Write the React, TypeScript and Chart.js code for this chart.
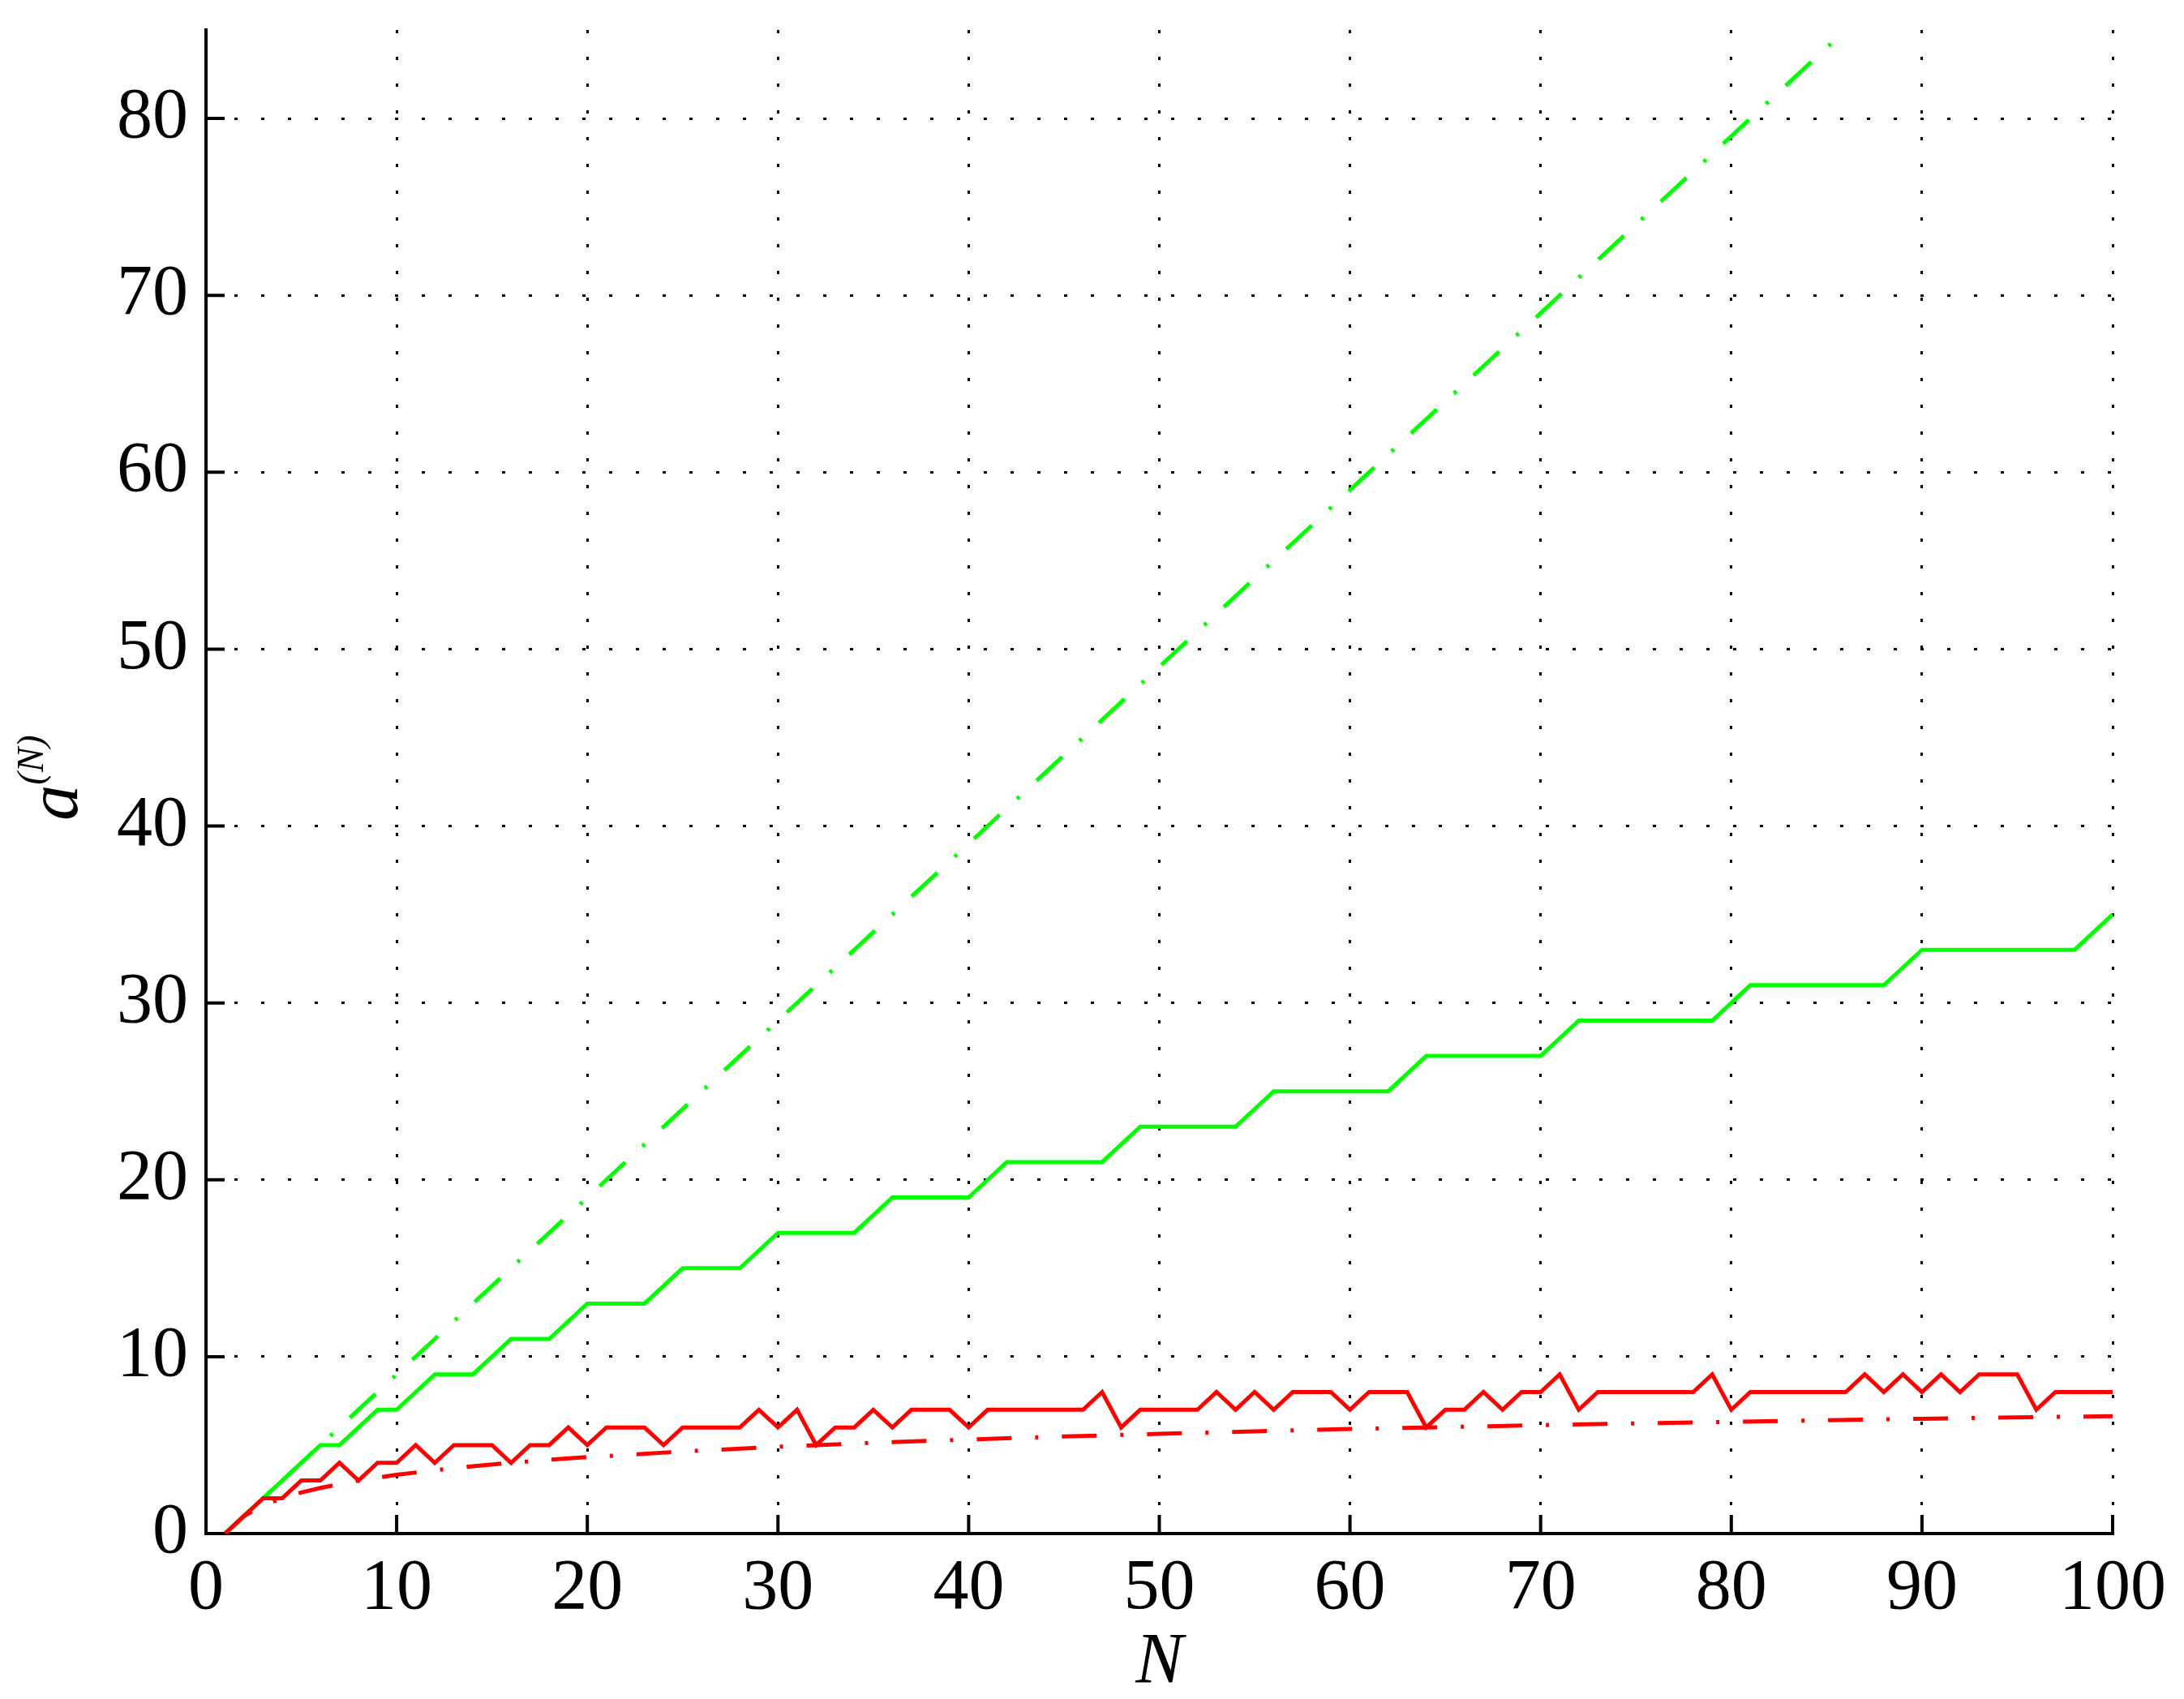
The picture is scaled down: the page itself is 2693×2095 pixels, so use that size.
import { useEffect, useRef } from 'react';
import Chart from 'chart.js/auto';

// index along the horizontal axis
const nValues = Array.from({ length: 100 }, (_, i) => i + 1);

// green solid staircase, one value per N
const greenSteps = [
  0, 1, 2, 3, 4, 5, 5, 6, 7, 7,
  8, 9, 9, 9, 10, 11, 11, 11, 12, 13,
  13, 13, 13, 14, 15, 15, 15, 15, 16, 17,
  17, 17, 17, 17, 18, 19, 19, 19, 19, 19,
  20, 21, 21, 21, 21, 21, 21, 22, 23, 23,
  23, 23, 23, 23, 24, 25, 25, 25, 25, 25,
  25, 25, 26, 27, 27, 27, 27, 27, 27, 27,
  28, 29, 29, 29, 29, 29, 29, 29, 29, 30,
  31, 31, 31, 31, 31, 31, 31, 31, 32, 33,
  33, 33, 33, 33, 33, 33, 33, 33, 34, 35
];

// red solid jagged series, one value per N
const redJagged = [
  0, 1, 2, 2, 3, 3, 4, 3, 4, 4,
  5, 4, 5, 5, 5, 4, 5, 5, 6, 5,
  6, 6, 6, 5, 6, 6, 6, 6, 7, 6,
  7, 5, 6, 6, 7, 6, 7, 7, 7, 6,
  7, 7, 7, 7, 7, 7, 8, 6, 7, 7,
  7, 7, 8, 7, 8, 7, 8, 8, 8, 7,
  8, 8, 8, 6, 7, 7, 8, 7, 8, 8,
  9, 7, 8, 8, 8, 8, 8, 8, 9, 7,
  8, 8, 8, 8, 8, 8, 9, 8, 9, 8,
  9, 8, 9, 9, 9, 7, 8, 8, 8, 8
];

// green dash-dot straight guide (runs off the top of the axes)
const greenGuideN = [1, 100];
const greenGuideA = [0, 99];

// red dash-dot slowly rising curve
const redCurveN = [1, 2, 3, 4, 5, 6, 8, 10, 12, 14, 16, 18, 20, 25, 30, 35, 40, 45, 50, 55, 60, 65, 70, 75, 80, 85, 90, 95, 100];
const redCurveA = [0, 1, 1.58, 2, 2.32, 2.58, 3, 3.32, 3.58, 3.81, 4, 4.17, 4.32, 4.64, 4.91, 5.13, 5.32, 5.49, 5.64, 5.78, 5.91, 6.02, 6.13, 6.23, 6.32, 6.41, 6.49, 6.57, 6.64];

const xMin = 0;
const xMax = 100;
const yMin = 0;
const yMax = 85;
const tickStep = 10;

const SERIF = "'Liberation Serif', 'Times New Roman', serif";
const DASH_DOT = [43, 29, 4, 29];

const pairs = (xs: number[], ys: number[]) => xs.map((x, i) => ({ x, y: ys[i] }));

const axisDecor = {
  id: 'axisDecor',
  afterDraw(chart: any) {
    const { ctx, chartArea, scales } = chart;
    const { left, bottom } = chartArea;
    ctx.save();
    ctx.strokeStyle = '#000';
    ctx.lineWidth = 4;
    ctx.beginPath();
    scales.x.ticks.forEach((t: any) => {
      const px = scales.x.getPixelForValue(t.value);
      ctx.moveTo(px, bottom);
      ctx.lineTo(px, bottom - 23);
    });
    scales.y.ticks.forEach((t: any) => {
      const py = scales.y.getPixelForValue(t.value);
      ctx.moveTo(left, py);
      ctx.lineTo(left + 23, py);
    });
    ctx.stroke();

    // y axis title a^(N)
    const mainFont = `italic 88px ${SERIF}`;
    const supFont = `italic 46px ${SERIF}`;
    ctx.font = mainFont;
    const wa = ctx.measureText('a').width;
    ctx.font = supFont;
    const ws = ctx.measureText('(N)').width;
    const total = wa + ws;
    const cy = (chartArea.top + chartArea.bottom) / 2 - 5;
    ctx.translate(95, cy);
    ctx.rotate(-Math.PI / 2);
    ctx.fillStyle = '#000';
    ctx.textBaseline = 'alphabetic';
    ctx.textAlign = 'left';
    ctx.font = mainFont;
    ctx.fillText('a', -total / 2, 0);
    ctx.font = supFont;
    ctx.fillText('(N)', -total / 2 + wa, -42);
    ctx.restore();
  }
};

function SequenceChart() {
  const ref = useRef<HTMLCanvasElement | null>(null);

  useEffect(() => {
    if (!ref.current) return;
    const chart = new Chart(ref.current, {
      type: 'line',
      data: {
        datasets: [
          {
            label: 'red dash-dot',
            data: pairs(redCurveN, redCurveA),
            borderColor: '#ff0000',
            borderWidth: 5,
            borderDash: DASH_DOT,
            pointRadius: 0,
            tension: 0
          },
          {
            label: 'red solid',
            data: pairs(nValues, redJagged),
            borderColor: '#ff0000',
            borderWidth: 5,
            pointRadius: 0,
            tension: 0
          },
          {
            label: 'green solid',
            data: pairs(nValues, greenSteps),
            borderColor: '#00ff00',
            borderWidth: 5,
            pointRadius: 0,
            tension: 0
          },
          {
            label: 'green dash-dot',
            data: pairs(greenGuideN, greenGuideA),
            borderColor: '#00ff00',
            borderWidth: 5,
            borderDash: DASH_DOT,
            pointRadius: 0,
            tension: 0
          }
        ]
      },
      options: {
        responsive: true,
        maintainAspectRatio: false,
        animation: false,
        devicePixelRatio: 1,
        layout: { padding: { top: 37, right: 88, bottom: 0, left: 0 } },
        plugins: {
          legend: { display: false },
          tooltip: { enabled: false }
        },
        scales: {
          x: {
            type: 'linear',
            min: xMin,
            max: xMax,
            ticks: {
              stepSize: tickStep,
              color: '#000',
              font: { family: SERIF, size: 88 },
              padding: 16,
              maxRotation: 0
            },
            grid: { color: '#000', lineWidth: 3, drawTicks: false },
            border: { display: true, color: '#000', width: 4, dash: [4, 29] },
            title: {
              display: true,
              text: 'N',
              color: '#000',
              font: { family: SERIF, size: 88, style: 'italic', lineHeight: 1 },
              padding: { top: 0, bottom: 0 }
            },
            afterFit: (scale: any) => {
              scale.height = 204;
              scale.paddingLeft = 0;
              scale.paddingRight = 0;
            }
          },
          y: {
            type: 'linear',
            min: yMin,
            max: yMax,
            ticks: {
              stepSize: tickStep,
              includeBounds: false,
              color: '#000',
              font: { family: SERIF, size: 88 },
              padding: 22
            },
            grid: { color: '#000', lineWidth: 3, drawTicks: false },
            border: { display: true, color: '#000', width: 4, dash: [4, 29] },
            afterFit: (scale: any) => {
              scale.width = 254;
              scale.paddingTop = 0;
              scale.paddingBottom = 0;
            }
          }
        }
      },
      plugins: [axisDecor]
    });
    return () => chart.destroy();
  }, []);

  return <canvas ref={ref} aria-label="a(N) against N" />;
}

export default function App() {
  return (
    <div style={{ position: 'fixed', left: 0, top: 0, width: 2693, height: 2095, background: '#fff' }}>
      <SequenceChart />
    </div>
  );
}
